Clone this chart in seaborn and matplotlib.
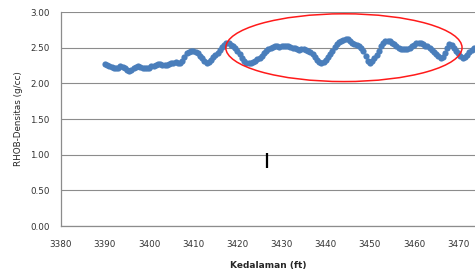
"""
Recreate RHOB density vs depth scatter chart.
"""
import numpy as np
import pandas as pd
import seaborn as sns
import matplotlib.pyplot as plt
from matplotlib.patches import Ellipse

# Depth samples (ft), every half foot.
depth = np.arange(3390.0, 3474.0, 0.5)

# RHOB density (g/cc).
rhob = [
    2.27, 2.26, 2.25, 2.23, 2.22, 2.21, 2.22, 2.24, 2.23, 2.21,
    2.19, 2.17, 2.19, 2.21, 2.23, 2.24, 2.23, 2.22, 2.21, 2.21,
    2.22, 2.24, 2.25, 2.26, 2.27, 2.27, 2.26, 2.26, 2.26, 2.27,
    2.28, 2.29, 2.30, 2.29, 2.29, 2.31, 2.37, 2.42, 2.44, 2.45,
    2.45, 2.44, 2.42, 2.39, 2.35, 2.31, 2.29, 2.30, 2.33, 2.37,
    2.40, 2.43, 2.47, 2.51, 2.54, 2.56, 2.56, 2.54, 2.52, 2.49,
    2.45, 2.41, 2.36, 2.32, 2.29, 2.28, 2.29, 2.30, 2.32, 2.34,
    2.36, 2.39, 2.42, 2.45, 2.48, 2.50, 2.51, 2.52, 2.52, 2.51,
    2.52, 2.52, 2.52, 2.53, 2.51, 2.50, 2.49, 2.48, 2.47, 2.48,
    2.48, 2.47, 2.46, 2.44, 2.41, 2.37, 2.33, 2.30, 2.29, 2.30,
    2.33, 2.37, 2.41, 2.46, 2.51, 2.55, 2.58, 2.60, 2.61, 2.62,
    2.62, 2.60, 2.57, 2.55, 2.54, 2.52, 2.50, 2.45, 2.38, 2.31,
    2.29, 2.31, 2.35, 2.40, 2.46, 2.52, 2.56, 2.59, 2.60, 2.59,
    2.57, 2.55, 2.53, 2.50, 2.48, 2.48, 2.48, 2.48, 2.49, 2.52,
    2.54, 2.56, 2.57, 2.56, 2.55, 2.53, 2.52, 2.50, 2.47, 2.44,
    2.41, 2.38, 2.36, 2.37, 2.42, 2.50, 2.55, 2.54, 2.50, 2.46,
    2.42, 2.38, 2.36, 2.37, 2.40, 2.44, 2.47, 2.49,
]

xticks = list(range(3380, 3471, 10))
yticks = [0.0, 0.5, 1.0, 1.5, 2.0, 2.5, 3.0]

df = pd.DataFrame({"depth": depth, "rhob": rhob})

sns.set_style("white")
plt.rcParams["font.family"] = ["DejaVu Sans"]

fig = plt.figure(figsize=(4.75, 2.73), dpi=100)
ax = fig.add_axes([0.128, 0.172, 0.874, 0.784])

# Gridlines behind the points.
ax.set_axisbelow(True)
ax.yaxis.grid(True, color="#8c8c8c", linewidth=0.8)

sns.scatterplot(data=df, x="depth", y="rhob", ax=ax, color="#4a7ebb",
                s=20, linewidth=0, legend=False)

# Red circle highlighting the zone of interest.
ax.add_patch(Ellipse((3444.1, 2.50), 53.5, 0.95, fill=False,
                     edgecolor="#ff1a1a", linewidth=1.1))

# Small black mark in the middle of the plot.
ax.vlines(3426.6, 0.81, 1.02, color="black", linewidth=1.6)

ax.set_xlim(3380, 3474)
ax.set_ylim(0, 3.0)
ax.set_xticks(xticks)
ax.set_yticks(yticks)
ax.set_yticklabels([f"{v:.2f}" for v in yticks])
ax.tick_params(axis="both", length=0, labelsize=6.3, colors="#333333")
ax.tick_params(axis="x", pad=10)
ax.tick_params(axis="y", pad=8)

for side in ["top", "right"]:
    ax.spines[side].set_visible(False)
for side in ["left", "bottom"]:
    ax.spines[side].set_color("#8c8c8c")
    ax.spines[side].set_linewidth(0.9)

ax.set_xlabel("Kedalaman (ft)", fontsize=6.5, fontweight="bold", labelpad=9)
ax.set_ylabel("RHOB-Densitas (g/cc)", fontsize=6.3, labelpad=5)

plt.savefig("out.png", dpi=100)
